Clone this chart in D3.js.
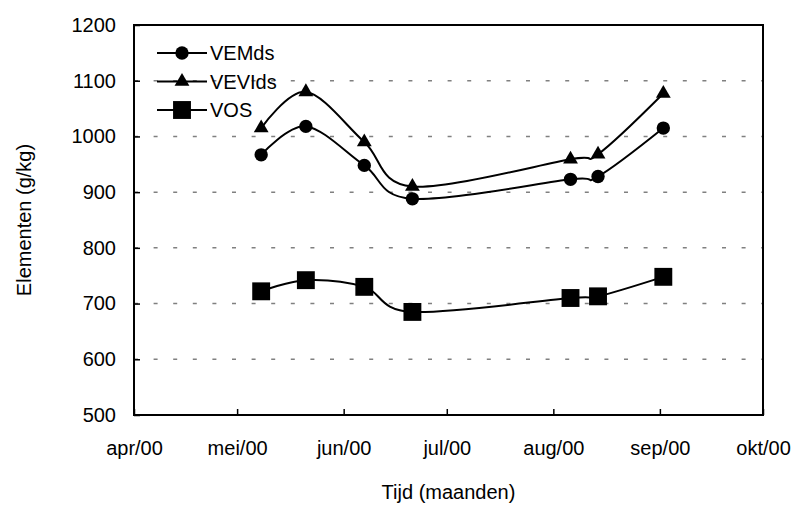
<!DOCTYPE html>
<html>
<head>
<meta charset="utf-8">
<script src="https://cdn.jsdelivr.net/npm/d3@7"></script>
<style>
  body { margin: 0; background: #fff; }
  svg { display: block; font-family: Arial, "Liberation Sans", sans-serif; }
</style>
</head>
<body>
<svg width="795" height="506"></svg>
<script>
// meetdata
const dates = ["2000-05-08", "2000-05-21", "2000-06-07", "2000-06-21", "2000-08-06", "2000-08-14", "2000-09-02"]
const vemds = [967, 1018, 948, 888, 923, 928, 1015]
const vevids = [1015, 1080, 990, 910, 959, 968, 1077]
const vos = [722, 742, 730, 685, 710, 713, 748]
const yTicks = [500, 600, 700, 800, 900, 1000, 1100, 1200]
const monthLabels = ["apr/00", "mei/00", "jun/00", "jul/00", "aug/00", "sep/00", "okt/00"]

const svg = d3.select("svg")
const margin = {top:25, right:32, bottom:91, left:134}
const width = +svg.attr("width") - margin.left - margin.right
const height = +svg.attr("height") - margin.top - margin.bottom

const parse = d3.timeParse("%Y-%m-%d")
const months = monthLabels.map((d, i) => new Date(2000, 3 + i, 1))

const x = d3.scaleTime().domain([months[0], months[months.length-1]]).range([0, width])
const y = d3.scaleLinear().domain([500, 1200]).range([height, 0])

const chart = svg.append("g")
    .attr("transform", `translate(${margin.left},${margin.top})`)

// gridlines
chart.append("g").selectAll("line")
    .data(yTicks.filter(d => d > 500 && d < 1200))
  .enter().append("line")
    .attr("x1", 0).attr("x2", width)
    .attr("y1", d => y(d)).attr("y2", d => y(d))
    .attr("stroke", "#808080")
    .attr("stroke-width", 1.5)
    .attr("stroke-dasharray", "4,15.6")

// y axis
const yAxis = chart.append("g")
    .call(d3.axisLeft(y).tickValues(yTicks).tickSize(-6).tickPadding(18).tickFormat(d3.format("d")))
yAxis.select(".domain").remove()
yAxis.selectAll(".tick line").attr("stroke", "#000").attr("stroke-width", 1.5)
yAxis.selectAll("text").style("font-size", "20px").attr("fill", "#000")

// x axis
const xAxis = chart.append("g")
    .attr("transform", `translate(0,${height})`)
    .call(d3.axisBottom(x).tickValues(months).tickSize(-6).tickPadding(26)
        .tickFormat((d, i) => monthLabels[i]))
xAxis.select(".domain").remove()
xAxis.selectAll(".tick line").attr("stroke", "#000").attr("stroke-width", 1.5)
xAxis.selectAll("text").style("font-size", "20px").attr("fill", "#000")

// kader
chart.append("rect")
    .attr("width", width).attr("height", height)
    .attr("fill", "none")
    .attr("stroke", "#000")
    .attr("stroke-width", 2)

const series = [
    {name: "VEMds", values: vemds, symbol: d3.symbolCircle, size: 140},
    {name: "VEVIds", values: vevids, symbol: d3.symbolTriangle, size: 95},
    {name: "VOS", values: vos, symbol: d3.symbolSquare, size: 320}
]

const line = d3.line()
    .x(d => x(d.date))
    .y(d => y(d.value))
    .curve(d3.curveCardinal.tension(0))

series.forEach(s => {
    const pts = dates.map((d, i) => ({date: parse(d), value: s.values[i]}))
    chart.append("path")
        .datum(pts)
        .attr("d", line)
        .attr("fill", "none")
        .attr("stroke", "#000")
        .attr("stroke-width", 2)
    chart.append("g").selectAll("path")
        .data(pts)
      .enter().append("path")
        .attr("d", d3.symbol().type(s.symbol).size(s.size))
        .attr("transform", d => `translate(${x(d.date)},${y(d.value)})`)
        .attr("fill", "#000")
})

// legenda
const legend = svg.append("g").attr("transform", "translate(157,53)")
const rows = legend.selectAll(".row")
    .data(series)
  .enter().append("g")
    .attr("class", "row")
    .attr("transform", (d, i) => `translate(0,${i * 28.5})`)
rows.append("line")
    .attr("x1", 0).attr("x2", 50)
    .attr("stroke", "#000").attr("stroke-width", 2)
rows.append("path")
    .attr("d", d => d3.symbol().type(d.symbol).size(d.size)())
    .attr("transform", "translate(25,0)")
    .attr("fill", "#000")
rows.append("text")
    .attr("x", 53)
    .attr("dy", "0.35em")
    .style("font-size", "20px")
    .text(d => d.name)

// as-titels
svg.append("text")
    .attr("x", margin.left + width / 2)
    .attr("y", 499)
    .attr("text-anchor", "middle")
    .style("font-size", "20px")
    .text("Tijd (maanden)")

svg.append("text")
    .attr("transform", `translate(31,${margin.top + height / 2}) rotate(-90)`)
    .attr("text-anchor", "middle")
    .style("font-size", "20px")
    .text("Elementen (g/kg)")
</script>
</body>
</html>
